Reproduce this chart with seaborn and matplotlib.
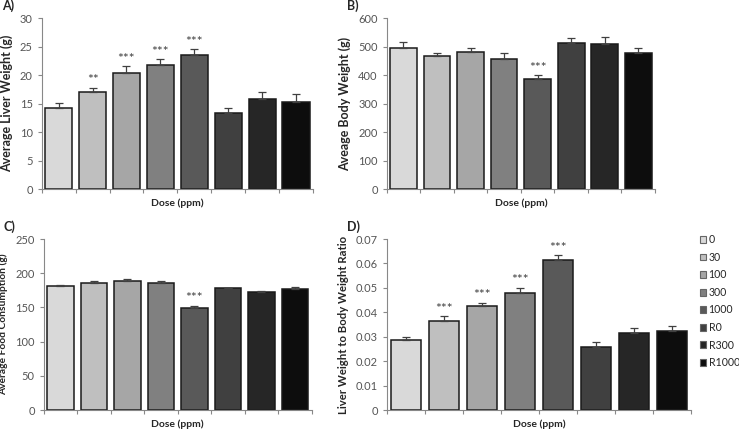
import numpy as np
import pandas as pd
import matplotlib
matplotlib.use("Agg")
import matplotlib.pyplot as plt
from matplotlib.patches import Patch
import seaborn as sns

doses = ["0", "30", "100", "300", "1000", "R0", "R300", "R1000"]
colors = ["#d9d9d9", "#bfbfbf", "#a6a6a6", "#808080", "#595959", "#404040", "#262626", "#0d0d0d"]

liver = [14.3, 17.1, 20.4, 21.8, 23.5, 13.3, 15.9, 15.4]
liver_err = [0.8, 0.7, 1.2, 1.0, 1.1, 0.9, 1.1, 1.3]
liver_sig = ["", "**", "***", "***", "***", "", "", ""]

body = [495, 468, 482, 457, 386, 512, 511, 477]
body_err = [23, 9, 14, 20, 15, 18, 22, 18]
body_sig = ["", "", "", "", "***", "", "", ""]

food = [181, 185, 189, 186, 149, 178, 173, 177]
food_err = [1.2, 3, 2, 3, 3.5, 1, 1, 2.5]
food_sig = ["", "", "", "", "***", "", "", ""]

ratio = [0.0288, 0.0366, 0.0426, 0.0479, 0.0615, 0.0259, 0.0315, 0.0322]
ratio_err = [0.0012, 0.0018, 0.0014, 0.0022, 0.0019, 0.0019, 0.0022, 0.0020]
ratio_sig = ["", "***", "***", "***", "***", "", "", ""]

sns.set_style("white")
plt.rcParams["font.family"] = ["Lato", "DejaVu Sans"]

fig = plt.figure(figsize=(7.39, 4.30), dpi=100)

panels = [
    ("A)", [0.0564, 0.5598, 0.3671, 0.3976], liver, liver_err, liver_sig, "Average Liver Weight (g)", (0, 30), 5, 9, "{:.0f}"),
    ("B)", [0.5233, 0.5598, 0.3630, 0.3976], body, body_err, body_sig, "Aveage Body Weight (g)", (0, 600), 100, 9, "{:.0f}"),
    ("C)", [0.0591, 0.0465, 0.3627, 0.3976], food, food_err, food_sig, "Average Food Consumption (g)", (0, 250), 50, 7.4, "{:.0f}"),
    ("D)", [0.5233, 0.0465, 0.4118, 0.3976], ratio, ratio_err, ratio_sig, "Liver Weight to Body Weight Ratio", (0, 0.07), 0.01, 8.2, "{:g}"),
]

for label, pos, vals, errs, sig, ylab, ylim, step, yfs, fmt in panels:
    ax = fig.add_axes(pos)
    df = pd.DataFrame({"dose": doses, "val": vals})
    sns.barplot(data=df, x="dose", y="val", hue="dose", order=doses, hue_order=doses,
                palette=colors, width=0.8, edgecolor="#1a1a1a", linewidth=1.1,
                errorbar=None, legend=False, ax=ax)
    xs = np.arange(len(doses))
    ax.errorbar(xs, vals, yerr=[np.zeros(len(vals)), errs], fmt="none",
                ecolor="#404040", elinewidth=0.9, capsize=3, capthick=0.9, zorder=3)
    for x, v, e, s in zip(xs, vals, errs, sig):
        if s:
            ax.annotate(s, (x, v + e), xytext=(0, 1), textcoords="offset points",
                        ha="center", va="bottom", fontsize=10, color="#404040")
    ax.set_xlim(-0.5, 7.5)
    ax.set_ylim(*ylim)
    ticks = np.arange(ylim[0], ylim[1] + step / 2, step)
    ax.set_yticks(ticks)
    ax.set_yticklabels([fmt.format(round(t, 2)) for t in ticks], fontsize=8, color="#555555")
    ax.set_xticks(np.arange(-0.5, 8, 1))
    ax.set_xticklabels([])
    ax.tick_params(axis="both", direction="out", length=3, width=0.8, color="#888888",
                   left=True, bottom=True, pad=3.5)
    for sp in ["top", "right"]:
        ax.spines[sp].set_visible(False)
    for sp in ["left", "bottom"]:
        ax.spines[sp].set_color("#888888")
        ax.spines[sp].set_linewidth(0.8)
    ax.set_xlabel("Dose (ppm)", fontsize=7.5, fontweight="bold", labelpad=0)
    ax.set_ylabel(ylab, fontsize=yfs, fontweight="bold", labelpad=5)
    fx = pos[0] - 0.054
    fig.text(fx, pos[1] + pos[3] + 0.014, label, fontsize=9, fontweight="bold",
             ha="left", va="bottom")

handles = [Patch(facecolor=c, edgecolor="#666666", linewidth=0.8) for c in colors]
fig.legend(handles, doses, loc="upper left", bbox_to_anchor=(0.941, 0.465),
           frameon=False, fontsize=7.6, handlelength=0.6, handleheight=0.6,
           handletextpad=0.25, labelspacing=0.62, borderaxespad=0)

fig.savefig("out.png", dpi=100)
